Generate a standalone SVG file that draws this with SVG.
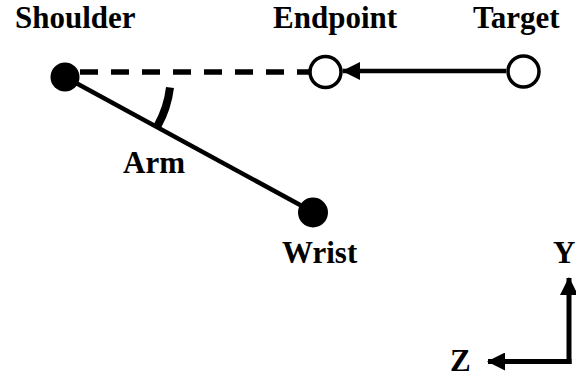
<svg xmlns="http://www.w3.org/2000/svg" width="576" height="377" viewBox="0 0 576 377">
<style>
text{font-family:"Liberation Serif","Times New Roman",serif;font-weight:bold;font-size:31px;fill:#000}
.ln{stroke:#000;stroke-width:4.5;fill:none}
.dot{fill:#000}
.ring{fill:#fff;stroke:#000;stroke-width:3.5}
</style>
<defs>
<marker id="ah" viewBox="0 0 18 18" refX="17" refY="9" markerWidth="18" markerHeight="18" markerUnits="userSpaceOnUse" orient="auto">
<path d="M0,0 L18,9 L0,18 Z" fill="#000"/>
</marker>
</defs>
<g id="connectors">
<line class="ln" x1="80" y1="72" x2="309" y2="72" style="stroke-width:5.5" stroke-dasharray="18 13"/>
<line class="ln" x1="65" y1="77" x2="313" y2="212"/>
<line class="ln" x1="506" y1="71" x2="343" y2="71" marker-end="url(#ah)"/>
<path class="ln" d="M170,87.5 A105,105 0 0 1 157.5,126" style="stroke-width:8"/>
</g>
<g id="shoulder">
<circle class="dot" cx="65" cy="77" r="14.5"/>
<text x="15" y="28">Shoulder</text>
</g>
<g id="endpoint">
<circle class="ring" cx="325.5" cy="72" r="15.5"/>
<text x="273" y="28">Endpoint</text>
</g>
<g id="target">
<circle class="ring" cx="523.5" cy="71.5" r="15.5"/>
<text x="473" y="28">Target</text>
</g>
<g id="wrist">
<circle class="dot" cx="313" cy="212.5" r="15"/>
<text x="282" y="263">Wrist</text>
</g>
<g id="arm-label">
<text x="123" y="173" font-size="30">Arm</text>
</g>
<g id="axes">
<line class="ln" x1="569" y1="364" x2="569" y2="278" style="stroke-width:5" marker-end="url(#ah)"/>
<line class="ln" x1="571.5" y1="361.5" x2="488" y2="361.5" style="stroke-width:5" marker-end="url(#ah)"/>
<text x="553" y="263">Y</text>
<text x="450" y="371">Z</text>
</g>
</svg>
